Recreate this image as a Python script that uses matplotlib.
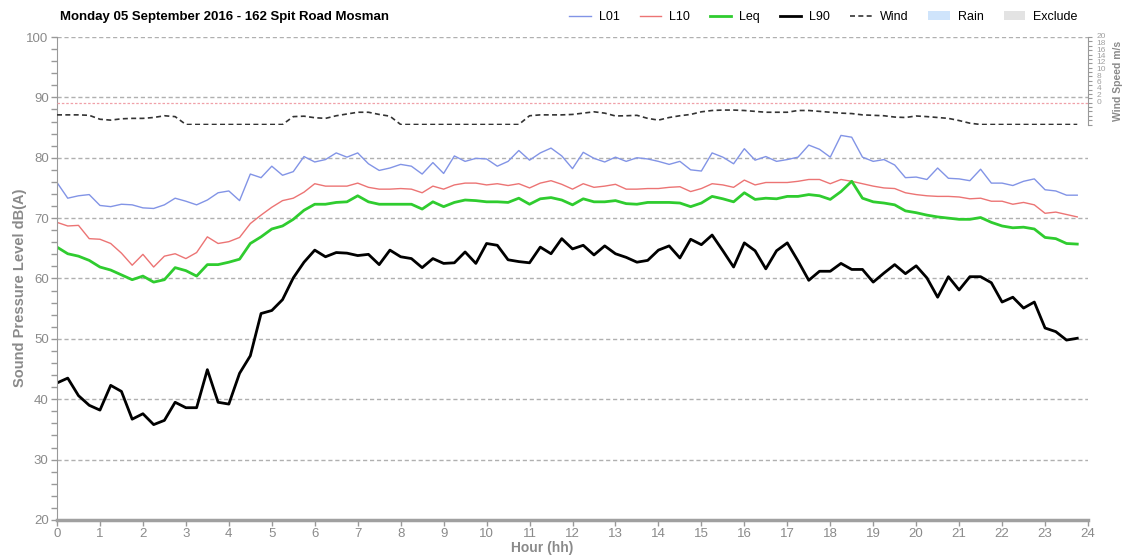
import numpy as np
import matplotlib
matplotlib.use('Agg')
import matplotlib.pyplot as plt
from matplotlib.lines import Line2D
from matplotlib.patches import Patch
from matplotlib.ticker import MultipleLocator

# 15 minute intervals, 00:00 -> 23:45
hours = np.arange(96) * 0.25

l01 = [75.9, 73.3, 73.7, 73.9, 72.1, 71.9, 72.3, 72.2, 71.7, 71.6, 72.2, 73.3, 72.8, 72.2, 73.0, 74.2,
       74.5, 72.9, 77.3, 76.7, 78.6, 77.1, 77.7, 80.2, 79.3, 79.7, 80.8,
       80.1, 80.8, 79.0, 77.9, 78.3, 78.9, 78.6, 77.3, 79.2, 77.4, 80.3, 79.4, 79.9, 79.8, 78.6, 79.4,
       81.2, 79.6, 80.8, 81.6, 80.3, 78.2, 80.9, 79.9, 79.3, 80.1, 79.4, 80.0, 79.8, 79.4, 78.9, 79.4,
       78.0, 77.8,
       80.8, 80.1, 79.0, 81.5, 79.6, 80.2, 79.4, 79.7, 80.1, 82.1, 81.4, 80.1, 83.7, 83.4, 80.1, 79.4,
       79.7, 78.8, 76.7, 76.8, 76.4, 78.3, 76.6, 76.5, 76.2, 78.1, 75.8, 75.8, 75.4, 76.1, 76.5, 74.7,
       74.5, 73.8, 73.8]
l10 = [69.3, 68.7, 68.8, 66.6, 66.5, 65.8, 64.2, 62.2, 64.0, 61.9, 63.7, 64.1, 63.3, 64.3, 66.9, 65.8,
       66.1, 66.8, 69.1, 70.5, 71.8, 72.9, 73.3, 74.3, 75.7, 75.3, 75.3,
       75.3, 75.8, 75.1, 74.8, 74.8, 74.9, 74.8, 74.2, 75.3, 74.8, 75.5, 75.8, 75.8, 75.5, 75.7, 75.4,
       75.7, 75.0, 75.8, 76.2, 75.6, 74.8, 75.7, 75.1, 75.3, 75.6, 74.8, 74.8, 74.9, 74.9, 75.1, 75.2,
       74.4, 74.9,
       75.7, 75.5, 75.1, 76.3, 75.5, 75.9, 75.9, 75.9, 76.1, 76.4, 76.4, 75.7, 76.4, 76.1, 75.7, 75.3,
       75.0, 74.9, 74.2, 73.9, 73.7, 73.6, 73.6, 73.5, 73.2, 73.3, 72.8, 72.8, 72.3, 72.6, 72.2, 70.8,
       71.0, 70.6, 70.2]
leq = [65.2, 64.1, 63.7, 63.0, 61.9, 61.4, 60.6, 59.8, 60.4, 59.4, 59.8, 61.8, 61.3, 60.4, 62.3, 62.3,
       62.7, 63.2, 65.8, 66.9, 68.2, 68.7, 69.8, 71.3, 72.3, 72.3, 72.6,
       72.7, 73.7, 72.7, 72.3, 72.3, 72.3, 72.3, 71.5, 72.7, 71.9, 72.6, 73.0, 72.9, 72.7, 72.7, 72.6,
       73.3, 72.3, 73.2, 73.4, 73.0, 72.2, 73.2, 72.7, 72.7, 72.9, 72.4, 72.3, 72.6, 72.6, 72.6, 72.5,
       71.9, 72.5,
       73.6, 73.2, 72.7, 74.2, 73.1, 73.3, 73.2, 73.6, 73.6, 73.9, 73.7, 73.1, 74.4, 76.1, 73.3, 72.7,
       72.5, 72.2, 71.2, 70.9, 70.5, 70.2, 70.0, 69.8, 69.8, 70.1, 69.3, 68.7, 68.4, 68.5, 68.2, 66.8,
       66.6, 65.8, 65.7]
l90 = [42.7, 43.5, 40.6, 39.0, 38.2, 42.3, 41.3, 36.7, 37.6, 35.8, 36.5, 39.5, 38.6, 38.6, 44.9, 39.5,
       39.2, 44.3, 47.2, 54.2, 54.7, 56.5, 60.1, 62.7, 64.7, 63.6, 64.3,
       64.2, 63.8, 64.0, 62.3, 64.7, 63.6, 63.3, 61.8, 63.3, 62.5, 62.6, 64.4, 62.5, 65.8, 65.5, 63.1,
       62.8, 62.6, 65.2, 64.1, 66.6, 64.9, 65.5, 63.9, 65.4, 64.1, 63.5, 62.7, 63.0, 64.7, 65.4, 63.4,
       66.5, 65.6,
       67.2, 64.6, 61.9, 65.9, 64.6, 61.6, 64.6, 65.9, 62.9, 59.7, 61.2, 61.2, 62.5, 61.5, 61.5, 59.4,
       60.9, 62.3, 60.8, 62.1, 60.1, 56.9, 60.3, 58.1, 60.3, 60.3, 59.3, 56.1, 56.9, 55.1, 56.1, 51.8,
       51.2, 49.8, 50.1]
wind = [2.2, 2.2, 2.2, 2.1, 1.2, 1.0, 1.3, 1.4, 1.4, 1.6, 2.0, 1.8,
        0, 0, 0, 0, 0, 0, 0, 0, 0, 0,
        1.8, 1.9, 1.55, 1.4, 2.0, 2.4, 2.8, 2.8, 2.3, 1.9,
        0, 0, 0, 0, 0, 0, 0, 0, 0, 0, 0, 0,
        2.0, 2.2, 2.2, 2.2, 2.3, 2.6, 2.9, 2.6, 1.95, 2.0, 2.1, 1.4, 1.0, 1.6, 2.0, 2.3, 2.9, 3.2,
        3.3, 3.3, 3.2, 3.0, 2.8, 2.8, 2.8, 3.2, 3.2, 3.0, 2.8, 2.6, 2.5, 2.2, 2.1, 2.0, 1.7, 1.6,
        1.95, 1.8, 1.6, 1.4, 0.9, 0.3,
        0, 0, 0, 0, 0, 0, 0, 0, 0, 0]
wind_limit = 5

title = 'Monday 05 September 2016 - 162 Spit Road Mosman'

W, H = 1124, 556
GREY = '#8a8a8a'
plt.rcParams['font.family'] = ['Liberation Sans', 'DejaVu Sans']

fig = plt.figure(figsize=(W / 100, H / 100), dpi=100)

# main axes in pixel coords: x 57..1088, y 37..520
L, R, T, B = 57, 1088, 37, 520
ax = fig.add_axes([L / W, 1 - B / H, (R - L) / W, (B - T) / H])

ax.plot(hours, l01, color='#8294e6', lw=1.0)
ax.plot(hours, l10, color='#ec7474', lw=1.0)
ax.plot(hours, leq, color='#2fcc2f', lw=2.0)
ax.plot(hours, l90, color='black', lw=2.0)

ax.set_xlim(0, 24)
ax.set_ylim(20, 100)
ax.set_xticks(range(0, 25))
ax.yaxis.set_major_locator(MultipleLocator(10))
ax.yaxis.set_minor_locator(MultipleLocator(2))
for v in range(30, 101, 10):
    ax.axhline(v, color='#b0b0b0', lw=1.0, ls=(0, (3, 2)), zorder=0)

for s in ['top', 'right']:
    ax.spines[s].set_visible(False)
ax.spines['left'].set_color('#999999')
ax.spines['bottom'].set_color('#a0a0a0')
ax.spines['bottom'].set_linewidth(2.5)
ax.tick_params(axis='y', which='both', colors='#999999', length=4, width=1, pad=2)
ax.tick_params(axis='x', colors='#999999', length=4, width=1, pad=1.5)
ax.tick_params(labelcolor=GREY, labelsize=9.5)
for lab in ax.get_xticklabels() + ax.get_yticklabels():
    lab.set_fontstretch('condensed')

ax.set_xlabel('Hour (hh)', color=GREY, fontsize=10, fontweight='bold')
ax.xaxis.set_label_coords(0.471, -0.044)
ax.set_ylabel('Sound Pressure Level dB(A)', color=GREY, fontsize=10.5, fontweight='bold')
ax.yaxis.set_label_coords(-0.029, 0.48)

# wind speed axis squeezed into the top band of the chart
wb = 124.5
ax_w = fig.add_axes([L / W, 1 - wb / H, (R - L) / W, (wb - T) / H])
ax_w.patch.set_visible(False)
ax_w.plot(hours, wind, color='#333333', lw=1.2, ls=(0, (3, 2)))
ax_w.axhline(wind_limit, color='#f0a0a8', lw=0.9, ls=(0, (2, 1.5)))
ax_w.set_xlim(0, 24)
ax_w.set_ylim(0, 20)
ax_w.set_xticks([])
for s in ['top', 'left', 'bottom']:
    ax_w.spines[s].set_visible(False)
ax_w.spines['right'].set_color('#999999')
ax_w.yaxis.tick_right()
ax_w.yaxis.set_major_locator(MultipleLocator(2))
ax_w.yaxis.set_minor_locator(MultipleLocator(1))
ax_w.tick_params(axis='y', which='both', colors='#999999', length=3, width=0.8, labelright=False)
ax_w.yaxis.set_label_position('right')
ax_w.set_ylabel('Wind Speed m/s', color=GREY, fontsize=7.5, fontweight='bold')
ax_w.yaxis.set_label_coords(1.024, 0.5)

# the wind tick labels are drawn compressed in the original
ax_wl = fig.add_axes([L / W, 1 - 101 / H, (R - L) / W, (101 - 36) / H])
ax_wl.patch.set_visible(False)
for s in ax_wl.spines.values():
    s.set_visible(False)
ax_wl.set_xticks([])
ax_wl.set_ylim(0, 20)
ax_wl.yaxis.tick_right()
ax_wl.set_yticks(range(0, 21, 2))
ax_wl.tick_params(axis='y', length=0, pad=6, labelsize=6, labelcolor='#a0a0a0')

fig.text(60 / W, 1 - 17 / H, title, fontsize=9.5, fontweight='bold', va='center', ha='left')

handles = [Line2D([], [], color='#8294e6', lw=1.0),
           Line2D([], [], color='#ec7474', lw=1.0),
           Line2D([], [], color='#2fcc2f', lw=2.0),
           Line2D([], [], color='black', lw=2.0),
           Line2D([], [], color='#333333', lw=1.2, ls=(0, (3, 2))),
           Patch(facecolor='#cfe4fb', edgecolor='none'),
           Patch(facecolor='#e3e3e3', edgecolor='none')]
labels = ['L01', 'L10', 'Leq', 'L90', 'Wind', 'Rain', 'Exclude']
fig.legend(handles, labels, loc='center right', bbox_to_anchor=(1086 / W, 1 - 17 / H), ncol=7,
           frameon=False, fontsize=9, handlelength=1.7, handletextpad=0.65, columnspacing=1.6,
           borderpad=0.2)

fig.savefig('out.png', dpi=100)
